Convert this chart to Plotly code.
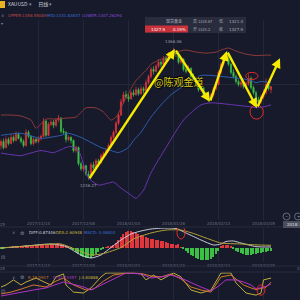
import plotly.graph_objects as go

# ---------------- data ----------------
date_ticks = ["2017/11/14", "2017/12/08", "2018/01/03", "2018/01/26", "2018/02/13", "2018/03/05"]
tick_idx = [15, 33, 51, 69, 87, 105]
edge_dates = ["2017/10/25", "2018/03/23"]
edge_idx = [-3, 123]

opens = [1270, 1274, 1268, 1276, 1272, 1278, 1275, 1281, 1277, 1274,
         1270, 1283, 1279, 1272, 1276, 1274, 1277, 1279, 1294, 1280,
         1291, 1293, 1290, 1295, 1297, 1284, 1283, 1276, 1278, 1275,
         1265, 1268, 1252, 1247, 1250, 1242, 1240, 1251, 1248, 1255,
         1253, 1260, 1262, 1265, 1270, 1278, 1283, 1292, 1300, 1313,
         1320, 1318, 1316, 1322, 1320, 1325, 1321, 1326, 1324, 1332,
         1338, 1345, 1343, 1348, 1352, 1350, 1356, 1354, 1360, 1358,
         1362, 1360, 1352, 1355, 1345, 1343, 1346, 1338, 1335, 1330,
         1325, 1327, 1320, 1318, 1315, 1320, 1326, 1330, 1342, 1350,
         1357, 1355, 1350, 1342, 1338, 1333, 1330, 1332, 1328, 1331,
         1336, 1327, 1322, 1315, 1313, 1318, 1322, 1330, 1325.2]
highs = [1276, 1277, 1279, 1278, 1281, 1280, 1284, 1283, 1279, 1276,
         1286, 1285, 1280, 1278, 1278, 1279, 1281, 1297, 1295, 1293,
         1295, 1295, 1297, 1300, 1298, 1287, 1284, 1280, 1279, 1276,
         1270, 1269, 1254, 1253, 1251, 1245, 1253, 1254, 1257, 1257,
         1262, 1264, 1267, 1272, 1280, 1285, 1294, 1303, 1316, 1323,
         1324, 1321, 1324, 1325, 1328, 1327, 1329, 1328, 1335, 1340,
         1347, 1348, 1350, 1355, 1354, 1358, 1358, 1362, 1362, 1366.06,
         1364, 1361, 1357, 1356, 1348, 1349, 1347, 1341, 1337, 1332,
         1330, 1328, 1323, 1320, 1322, 1328, 1332, 1344, 1352, 1359,
         1362, 1358, 1351, 1345, 1340, 1335, 1334, 1334, 1333, 1340,
         1338, 1329, 1324, 1318, 1320, 1325, 1336, 1332, 1328.67]
lows = [1266, 1266, 1267, 1270, 1271, 1273, 1274, 1276, 1272, 1268,
        1269, 1277, 1270, 1270, 1272, 1272, 1275, 1278, 1278, 1279,
        1289, 1287, 1288, 1293, 1282, 1281, 1273, 1274, 1272, 1263,
        1263, 1250, 1245, 1244, 1240, 1236.27, 1239, 1246, 1247, 1251,
        1252, 1258, 1260, 1263, 1268, 1276, 1281, 1290, 1299, 1311,
        1316, 1313, 1315, 1318, 1319, 1319, 1320, 1321, 1323, 1330,
        1336, 1340, 1342, 1346, 1347, 1349, 1351, 1353, 1355, 1357,
        1357, 1350, 1350, 1343, 1341, 1342, 1336, 1333, 1328, 1323,
        1323, 1318, 1316, 1313, 1314, 1318, 1324, 1329, 1340, 1348,
        1353, 1348, 1340, 1336, 1331, 1328, 1327, 1326, 1326, 1329,
        1325, 1320, 1307, 1310, 1311, 1316, 1320, 1324, 1321.4]
closes = [1274, 1268, 1276, 1272, 1278, 1275, 1281, 1277, 1274, 1270,
          1283, 1279, 1272, 1276, 1274, 1277, 1279, 1294, 1280, 1291,
          1293, 1290, 1295, 1297, 1284, 1283, 1276, 1278, 1275, 1265,
          1268, 1252, 1247, 1250, 1242, 1240, 1251, 1248, 1255, 1253,
          1260, 1262, 1265, 1270, 1278, 1283, 1292, 1300, 1313, 1320,
          1318, 1316, 1322, 1320, 1325, 1321, 1326, 1324, 1332, 1338,
          1345, 1343, 1348, 1352, 1350, 1356, 1354, 1360, 1358, 1362,
          1360, 1352, 1355, 1345, 1343, 1346, 1338, 1335, 1330, 1325,
          1327, 1320, 1318, 1315, 1320, 1326, 1330, 1342, 1350, 1357,
          1355, 1350, 1342, 1338, 1333, 1330, 1332, 1328, 1331, 1336,
          1327, 1322, 1315, 1313, 1318, 1322, 1330, 1326, 1327.9]

# Bollinger bands (index, price)
upper_idx = [0, 4, 8, 12, 14, 18, 22, 26, 30, 34, 38, 41, 44, 46, 49, 52, 54, 58, 60, 64, 67, 70, 74, 78, 82, 86, 88, 91, 94, 98, 102, 106, 108]
upper_val = [1300, 1300, 1299, 1295, 1287, 1296, 1296, 1297, 1298, 1307, 1307, 1303, 1295, 1298, 1312, 1326, 1334, 1344, 1350, 1355, 1358, 1362, 1364, 1362, 1361, 1362, 1364, 1366, 1363, 1360, 1358.55, 1359, 1359]
mid_idx = [0, 8, 16, 24, 27, 32, 36, 40, 44, 47, 51, 53, 56, 60, 64, 68, 72, 76, 80, 84, 88, 92, 96, 100, 102, 104, 108]
mid_val = [1280, 1282, 1277, 1280, 1282, 1278, 1273, 1268, 1265, 1263, 1268, 1275, 1283, 1298, 1310, 1320, 1327, 1334, 1339, 1339, 1338, 1337, 1336, 1334, 1331.84, 1333, 1332]
lower_idx = [0, 8, 11, 16, 21, 26, 28, 31, 35, 39, 43, 45, 48, 51, 54, 57, 60, 66, 73, 80, 84, 93, 100, 102, 105, 108]
lower_val = [1262.5, 1260, 1262, 1265, 1263, 1268, 1269, 1265, 1238, 1231, 1233, 1234, 1228, 1223, 1218, 1226, 1243, 1268, 1295, 1310, 1312, 1310, 1308, 1307.26, 1308, 1310]

# MACD histogram, one per candle
macd_hist = [-1, -1, -0.5, -0.5,
             0.5, 1, 1, 1.5,
             2, 2, 2.5, 2, 1.5, 2, 2.5,
             3, 3, 3.5, 3, 3,
             3.5, 4, 4, 4.5, 4, 3, 2,
             1,
             -1, -2, -4, -6, -8, -9, -10, -10.5, -10, -8, -6, -4, -2,
             -1, 0.5, 1, 2, 3,
             5, 8, 11, 14, 16, 17, 17, 16,
             15, 14, 13, 12, 11, 10, 9, 8.5, 8, 7.5,
             7, 6.5, 6, 5, 4, 3.5,
             3, 3.5,
             0.5,
             -1.5, -3, -5, -7, -8.5, -10, -11, -12, -12.5, -12.5, -12, -11, -9, -6, -3,
             1.5, 2.5, 3, 2.5, 1,
             -1.5, -3, -4.5, -5.5, -6.5, -7, -7, -7, -6.5, -6, -5.5, -5, -4.5, -4, -3.5, -3.46]
diff_idx = [0, 8, 20, 26, 32, 36, 40, 44, 48, 52, 56, 60, 66, 70, 74, 80, 85, 88, 90, 93, 96, 102, 108]
diff_val = [-0.5, 1, 3.5, 1, -7.5, -10.5, -7.5, 0, 7.5, 13.5, 16.5, 18.5, 19.5, 19, 14.5, 7.5, 2.5, 3.5, 6, 6.5, 4.5, 0.87, 0.5]
dea_idx = [0, 13, 24, 30, 36, 41, 48, 53, 60, 66, 72, 77, 82, 88, 96, 102, 108]
dea_val = [-0.5, 2, 3.5, -2, -7.5, -6, 0, 8.5, 14.5, 17.5, 17.5, 14, 9.5, 4.5, 3.5, 2.61, 2.2]

# KDJ
k_idx = [0, 4, 8, 13, 18, 22, 25, 29, 34, 37, 41, 45, 50, 56, 60, 64, 68, 72, 76, 80, 84, 86, 88, 92, 94, 97, 100, 102, 106, 108]
k_val = [9, 17, 30, 48, 39, 65, 78, 48, 26, 30, 65, 91, 100, 98, 87, 83, 96, 74, 39, 26, 17, 48, 83, 91, 74, 48, 35, 28.09, 38, 60]
d_idx = [0, 4, 8, 13, 18, 25, 30, 33, 36, 40, 44, 50, 56, 60, 64, 68, 72, 76, 80, 84, 87, 90, 94, 97, 100, 102, 105, 108]
d_val = [0, 9, 17, 26, 35, 61, 48, 39, 26, 48, 70, 100, 96, 78, 83, 91, 78, 57, 39, 22, 43, 70, 70, 61, 48, 31.43, 38, 52]
j_idx = [0, 2, 5, 8, 10, 14, 18, 20, 22, 25, 26, 29, 33, 36, 40, 42, 53, 56, 58, 61, 64, 69, 72, 76, 80, 84, 88, 92, 94, 98, 102, 104, 105, 108]
j_val = [39, 48, 70, 48, 61, 78, 57, 48, 83, 96, 48, 17, 13, 35, 83, 100, 100, 96, 70, 91, 70, 100, 83, 26, 13, 26, 100, 100, 57, 13, 3.81, 13, 70, 78]

# hand-drawn zigzag (index, price)
zig_idx = [35, 69.6, 83.6, 90.4, 102.4, 111.6]
zig_price = [1236.27, 1365, 1313, 1363, 1307, 1356]

# ---------------- style / layout helpers ----------------
W = H = 300
BG = "#161a2b"
RED = "#e0363c"
GREEN = "#3cbf45"
GRID = "#232839"
TXT = "#6b7182"

X0, X1 = -0.4, 119.6          # index range across full width
P_DOM = (20, 220)             # price panel pixel rows
P_RNG = (1196.6, 1393.6)
M_DOM = (228, 262)
M_RNG = (-14.5, 19.5)
K_DOM = (271, 300)
K_RNG = (-17.4, 108.7)


def dom(p):
    return [1 - p[1] / H, 1 - p[0] / H]


def xp(i):
    return (i - X0) / (X1 - X0)


idx = list(range(len(closes)))

fig = go.Figure()

fig.add_trace(go.Candlestick(
    x=idx, open=opens, high=highs, low=lows, close=closes,
    increasing=dict(line=dict(color=RED, width=0.7), fillcolor=RED),
    decreasing=dict(line=dict(color=GREEN, width=0.7), fillcolor=GREEN),
    whiskerwidth=0, xaxis="x", yaxis="y", hoverinfo="skip", showlegend=False))

for xs, ys, c in [(upper_idx, upper_val, "#8b3a38"), (mid_idx, mid_val, "#2f5cae"), (lower_idx, lower_val, "#6a35b0")]:
    fig.add_trace(go.Scatter(x=xs, y=ys, mode="lines", line=dict(color=c, width=1, shape="spline", smoothing=0.6),
                             xaxis="x", yaxis="y", hoverinfo="skip", showlegend=False))

fig.add_trace(go.Bar(x=idx, y=macd_hist, marker=dict(color=[RED if v >= 0 else GREEN for v in macd_hist], line=dict(width=0)),
                     width=0.6, xaxis="x2", yaxis="y2", hoverinfo="skip", showlegend=False))
fig.add_trace(go.Scatter(x=diff_idx, y=diff_val, mode="lines", line=dict(color="#c9c9d6", width=1, shape="spline", smoothing=0.6),
                         xaxis="x2", yaxis="y2", hoverinfo="skip", showlegend=False))
fig.add_trace(go.Scatter(x=dea_idx, y=dea_val, mode="lines", line=dict(color="#b3a236", width=1, shape="spline", smoothing=0.6),
                         xaxis="x2", yaxis="y2", hoverinfo="skip", showlegend=False))

for xs, ys, c in [(j_idx, j_val, "#bfae3c"), (k_idx, k_val, "#d2782a"), (d_idx, d_val, "#b332c8")]:
    fig.add_trace(go.Scatter(x=xs, y=ys, mode="lines", line=dict(color=c, width=1),
                             xaxis="x3", yaxis="y3", hoverinfo="skip", showlegend=False))

ax_common = dict(range=[X0, X1], domain=[0, 1], showline=False, zeroline=False,
                 showgrid=True, gridcolor=GRID, gridwidth=1, tickvals=tick_idx, ticktext=date_ticks,
                 tickfont=dict(size=4, color=TXT, family="DejaVu Sans"), ticks="", fixedrange=True)

fig.update_layout(
    width=W, height=H, margin=dict(l=0, r=0, t=0, b=0, autoexpand=False),
    paper_bgcolor=BG, plot_bgcolor=BG, showlegend=False, bargap=0,
    title=dict(text="XAUUSD <span style='color:#8a8f9e'>▾</span>      日线 <span style='color:#8a8f9e'>▾</span>",
               x=8 / W, xanchor="left", xref="container", y=1 - 4.5 / H, yanchor="middle", yref="container",
               font=dict(size=5, color="#d0d2da", family="Noto Sans CJK SC"), automargin=False),
    xaxis=dict(**ax_common, anchor="y", rangeslider=dict(visible=False), showticklabels=True),
    xaxis2=dict(**ax_common, anchor="y2", showticklabels=True),
    xaxis3=dict(**ax_common, anchor="y3", showticklabels=False),
    yaxis=dict(domain=dom(P_DOM), range=list(P_RNG), showticklabels=False, tickvals=[1330], gridcolor=GRID,
               zeroline=False, fixedrange=True),
    yaxis2=dict(domain=dom(M_DOM), range=list(M_RNG), showticklabels=False, showgrid=False, zeroline=False, fixedrange=True),
    yaxis3=dict(domain=dom(K_DOM), range=list(K_RNG), showticklabels=False, showgrid=False, zeroline=False, fixedrange=True),
)

ann = []
shapes = []


def txt(x, y, s, size=4, color=TXT, anchor="left", family="DejaVu Sans"):
    ann.append(dict(x=x / W, y=1 - y / H, xref="paper", yref="paper", text=s, showarrow=False,
                    xanchor=anchor, yanchor="middle", borderpad=0,
                    font=dict(size=size, color=color, family=family)))


# panel separators
for yy in [227, 266, 272]:
    shapes.append(dict(type="line", xref="paper", yref="paper", x0=0, x1=1, y0=1 - yy / H, y1=1 - yy / H,
                       line=dict(color="#262b3c", width=1)))

# top bar icon
shapes.append(dict(type="rect", xref="paper", yref="paper", x0=0, x1=5 / W, y0=1 - 8 / H, y1=1 - 1 / H,
                   fillcolor="#e6b422", line=dict(width=0)))
txt(0, 15, "×", 4, "#8a8f9e")
txt(0, 23, "▾", 4, "#8a8f9e")
txt(7, 15, "UPPER:1358.55089", 4, "#c04a46")
txt(46, 15, "MID:1331.83847", 4, "#3a6fd6")
txt(81, 15, "LOWER:1307.26294", 4, "#8b48d6")

# info box
shapes.append(dict(type="rect", xref="paper", yref="paper", x0=145 / W, x1=246 / W, y0=1 - 33 / H, y1=1 - 17 / H,
                   fillcolor="#2a2e3f", line=dict(width=0), opacity=0.92))
shapes.append(dict(type="rect", xref="paper", yref="paper", x0=145 / W, x1=188 / W, y0=1 - 32.5 / H, y1=1 - 25.5 / H,
                   fillcolor="#c8303a", line=dict(width=0)))
txt(165, 21, "现货黄金", 4, "#b8bac4", family="Noto Sans CJK SC")
txt(150, 29, "1327.9", 4, "#ffffff")
txt(172, 29, "0.19%", 4, "#ffffff")
txt(192, 21, "高 1328.67", 4, "#a8abb6", family="Noto Sans CJK SC")
txt(218, 21, "低", 4, "#a8abb6", family="Noto Sans CJK SC")
txt(228, 21, "1321.4", 4, "#a8abb6")
txt(192, 29, "开 1325.2", 4, "#a8abb6", family="Noto Sans CJK SC")
txt(218, 29, "收", 4, "#a8abb6", family="Noto Sans CJK SC")
txt(228, 29, "1327.9", 4, "#a8abb6")

# high / low labels
ann.append(dict(x=69, y=highs[69], xref="x", yref="y", text=f"{highs[69]:.2f}", showarrow=False, yshift=6,
                font=dict(size=4, color="#9a9eab", family="DejaVu Sans")))
ann.append(dict(x=35, y=lows[35], xref="x", yref="y", text=f"{lows[35]:.2f}", showarrow=False, yshift=-6,
                font=dict(size=4, color="#9a9eab", family="DejaVu Sans")))

# watermark
ann.append(dict(x=71, y=1333.5, xref="x", yref="y", text="@陈观金道", showarrow=False,
                font=dict(size=10, color="#d8c812", family="Noto Sans CJK SC",
                          shadow="1px 1px 1px #000, -1px -1px 1px #000")))

# zigzag arrows
for k in range(len(zig_idx) - 1):
    ann.append(dict(x=zig_idx[k + 1], y=zig_price[k + 1], ax=zig_idx[k], ay=zig_price[k], xref="x", yref="y",
                    axref="x", ayref="y", text="", showarrow=True, arrowhead=2, arrowsize=0.8, arrowwidth=2.4,
                    arrowcolor="#f5ea00"))

# red circles
ELL = "#e42a2a"
shapes.append(dict(type="circle", xref="x", yref="y", x0=97.9, x1=102.8, y0=1335, y1=1342, line=dict(color=ELL, width=1)))
shapes.append(dict(type="circle", xref="x", yref="y", x0=99.6, x1=104.9, y0=1296, y1=1310, line=dict(color=ELL, width=1)))
shapes.append(dict(type="circle", xref="x2", yref="y2", x0=70.4, x1=73.6, y0=8.5, y1=21.5, line=dict(color=ELL, width=1)))
shapes.append(dict(type="circle", xref="x3", yref="y3", x0=102.4, x1=105.6, y0=4, y1=48, line=dict(color=ELL, width=1)))

# MACD / KDJ legends
txt(11, 233, "×", 4, "#8a8f9e")
txt(19, 233, "⚙", 5, "#8a8f9e")
txt(28, 233, "DIFF:0.87446", 4, "#d4d4dc")
txt(55, 233, "DEA:2.60948", 4, "#c8b43c")
txt(83, 233, "MACD:-3.46003", 4, "#3a6fd6")
txt(11, 277, "×", 4, "#8a8f9e")
txt(19, 277, "⚙", 5, "#8a8f9e")
txt(27, 277, "K:28.0917", 4, "#d2782a")
txt(52, 277, "D:31.43457", 4, "#b535c5")
txt(77, 277, "J:3.80888", 4, "#c8b840")
txt(0, 257, "⊡", 5, "#8a8f9e")
txt(0, 291, "⊡", 5, "#8a8f9e")

# edge (partially visible) date labels
for lab, i in zip(edge_dates, edge_idx):
    for yy in (224, 268):
        ann.append(dict(x=xp(i), y=1 - yy / H, xref="paper", yref="paper", text=lab, showarrow=False,
                        xanchor="center", yanchor="middle", font=dict(size=4, color=TXT, family="DejaVu Sans")))

# zoom buttons
shapes.append(dict(type="rect", xref="paper", yref="paper", x0=283 / W, x1=1, y0=1 - 228 / H, y1=1 - 221 / H,
                   fillcolor="#4a4e5c", line=dict(width=0)))
txt(286, 224.5, "2018", 4, "#e0e0e6")
for cx in (286.5, 298):
    shapes.append(dict(type="circle", xref="paper", yref="paper", x0=(cx - 3.5) / W, x1=(cx + 3.5) / W,
                       y0=1 - 220 / H, y1=1 - 213 / H, line=dict(color="#7a7f8e", width=0.8)))
txt(286.5, 216.5, "−", 4, "#9a9eab", anchor="center")
txt(298, 216.5, "+", 4, "#9a9eab", anchor="center")

fig.update_layout(annotations=ann, shapes=shapes)
fig.write_html("out.html")
